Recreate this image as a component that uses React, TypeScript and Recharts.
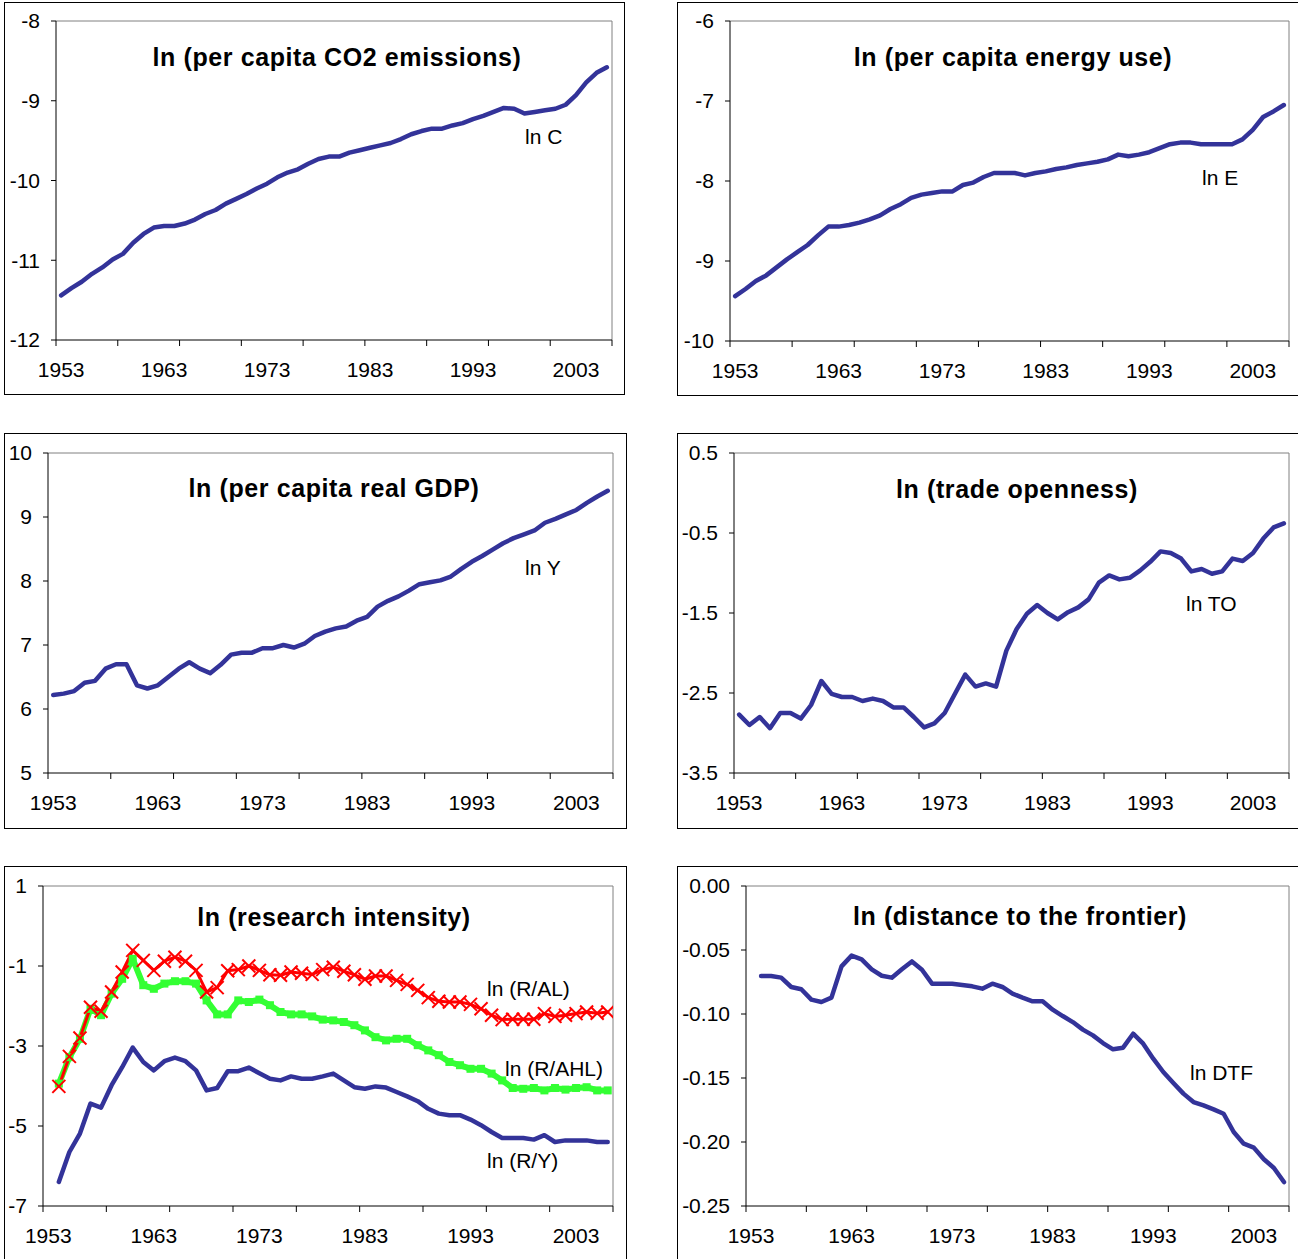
import { LineChart, Line, XAxis, YAxis, ReferenceLine } from "recharts";

// categories
const years = [
  1953, 1954, 1955, 1956, 1957, 1958, 1959, 1960, 1961, 1962,
  1963, 1964, 1965, 1966, 1967, 1968, 1969, 1970, 1971, 1972,
  1973, 1974, 1975, 1976, 1977, 1978, 1979, 1980, 1981, 1982,
  1983, 1984, 1985, 1986, 1987, 1988, 1989, 1990, 1991, 1992,
  1993, 1994, 1995, 1996, 1997, 1998, 1999, 2000, 2001, 2002,
  2003, 2004, 2005, 2006,
];
const xTickYears = [1953, 1963, 1973, 1983, 1993, 2003];
// tick marks sit between categories, every 6 years
const xTickMarks = [1952.5, 1958.5, 1964.5, 1970.5, 1976.5, 1982.5, 1988.5, 1994.5, 2000.5, 2006.5];

// series values
const lnC = [
  -11.44, -11.35, -11.27, -11.17, -11.09, -10.99, -10.92, -10.78, -10.67, -10.59,
  -10.57, -10.57, -10.54, -10.49, -10.42, -10.37, -10.29, -10.23, -10.17, -10.1,
  -10.04, -9.96, -9.9, -9.86, -9.79, -9.73, -9.7, -9.7, -9.65, -9.62,
  -9.59, -9.56, -9.53, -9.48, -9.42, -9.38, -9.35, -9.35, -9.31, -9.28,
  -9.23, -9.19, -9.14, -9.09, -9.1, -9.16, -9.14, -9.12, -9.1, -9.05,
  -8.93, -8.77, -8.65, -8.58,
];
const lnE = [
  -9.44, -9.35, -9.25, -9.18, -9.08, -8.98, -8.89, -8.8, -8.68, -8.57,
  -8.57, -8.55, -8.52, -8.48, -8.43, -8.35, -8.29, -8.21, -8.17, -8.15,
  -8.13, -8.13, -8.05, -8.02, -7.95, -7.9, -7.9, -7.9, -7.93, -7.9,
  -7.88, -7.85, -7.83, -7.8, -7.78, -7.76, -7.73, -7.67, -7.69, -7.67,
  -7.64, -7.59, -7.54, -7.52, -7.52, -7.54, -7.54, -7.54, -7.54, -7.48,
  -7.36, -7.2, -7.13, -7.05,
];
const lnY = [
  6.22, 6.24, 6.28, 6.41, 6.44, 6.63, 6.7, 6.7, 6.37, 6.32,
  6.37, 6.5, 6.63, 6.73, 6.63, 6.56, 6.69, 6.85, 6.88, 6.88,
  6.95, 6.95, 7.0, 6.96, 7.02, 7.14, 7.21, 7.26, 7.29, 7.38,
  7.44, 7.6, 7.69, 7.76, 7.85, 7.95, 7.98, 8.01, 8.07, 8.19,
  8.3, 8.39, 8.49, 8.59, 8.67, 8.73, 8.79, 8.91, 8.97, 9.04,
  9.11, 9.22, 9.32, 9.41,
];
const lnTO = [
  -2.77, -2.9, -2.8, -2.94, -2.75, -2.75, -2.82, -2.65, -2.35, -2.51,
  -2.55, -2.55, -2.6, -2.57, -2.6, -2.68, -2.68, -2.8, -2.93, -2.88,
  -2.75, -2.51, -2.27, -2.42, -2.38, -2.42, -1.97, -1.7, -1.51, -1.4,
  -1.5, -1.58, -1.49, -1.43, -1.33, -1.12, -1.03, -1.08, -1.06, -0.97,
  -0.86, -0.73, -0.75, -0.82, -0.98, -0.95, -1.01, -0.98, -0.82, -0.85,
  -0.75, -0.57, -0.43, -0.38,
];
const lnRY = [
  null, -6.4, -5.65, -5.19, -4.44, -4.54, -3.98, -3.53, -3.04, -3.4,
  -3.61, -3.38, -3.29, -3.38, -3.61, -4.11, -4.05, -3.63, -3.63, -3.54,
  -3.68, -3.82, -3.86, -3.76, -3.82, -3.82, -3.76, -3.69, -3.86, -4.03,
  -4.07, -4.01, -4.04, -4.15, -4.26, -4.38, -4.57, -4.69, -4.73, -4.73,
  -4.84, -4.98, -5.15, -5.3, -5.3, -5.3, -5.34, -5.23, -5.4, -5.36,
  -5.36, -5.36, -5.4, -5.4,
];
const lnRAHL = [
  null, -3.94, -3.28, -2.82, -2.07, -2.23, -1.69, -1.32, -0.82, -1.48,
  -1.57, -1.44, -1.38, -1.38, -1.44, -1.86, -2.21, -2.21, -1.86, -1.9,
  -1.84, -1.98, -2.15, -2.21, -2.21, -2.26, -2.34, -2.36, -2.4, -2.48,
  -2.61, -2.78, -2.86, -2.82, -2.82, -2.98, -3.11, -3.23, -3.4, -3.48,
  -3.57, -3.57, -3.69, -3.86, -4.05, -4.07, -4.05, -4.11, -4.05, -4.09,
  -4.05, -4.03, -4.11, -4.11,
];
const lnRAL = [
  null, -4.01, -3.26, -2.8, -2.03, -2.13, -1.65, -1.15, -0.61, -0.86,
  -1.11, -0.88, -0.78, -0.88, -1.11, -1.65, -1.54, -1.12, -1.09, -1.0,
  -1.11, -1.22, -1.23, -1.15, -1.18, -1.21, -1.09, -1.03, -1.13, -1.22,
  -1.33, -1.25, -1.25, -1.36, -1.46, -1.61, -1.79, -1.88, -1.9, -1.9,
  -1.96, -2.07, -2.23, -2.34, -2.33, -2.33, -2.33, -2.19, -2.26, -2.23,
  -2.19, -2.15, -2.18, -2.15,
];
const lnDTF = [
  null, -0.0703, -0.0703, -0.0716, -0.0789, -0.0807, -0.0888, -0.0906, -0.0872, -0.0628,
  -0.0544, -0.0573, -0.0651, -0.0701, -0.0716, -0.0651, -0.0589, -0.0654, -0.0763, -0.0763,
  -0.0763, -0.0773, -0.0784, -0.0802, -0.0763, -0.0789, -0.0841, -0.0872, -0.0901, -0.0901,
  -0.0966, -0.1016, -0.1063, -0.1122, -0.1167, -0.1227, -0.1276, -0.1263, -0.1154, -0.1232,
  -0.1349, -0.1453, -0.1539, -0.1622, -0.1688, -0.1714, -0.1745, -0.1779, -0.1922, -0.2013,
  -0.2044, -0.2135, -0.2203, -0.2313,
];

// y tick labels
const ticksC = [-12, -11, -10, -9, -8];
const ticksE = [-10, -9, -8, -7, -6];
const ticksY = [5, 6, 7, 8, 9, 10];
const ticksTO = [-3.5, -2.5, -1.5, -0.5, 0.5];
const ticksR = [-7, -5, -3, -1, 1];
const ticksDTF = [-0.25, -0.2, -0.15, -0.1, -0.05, 0];

const data = years.map((year, i) => ({
  year,
  lnC: lnC[i],
  lnE: lnE[i],
  lnY: lnY[i],
  lnTO: lnTO[i],
  lnRY: lnRY[i],
  lnRAHL: lnRAHL[i],
  lnRAL: lnRAL[i],
  lnDTF: lnDTF[i],
}));

const BLUE = "#333399";
const GREEN = "#33ff33";
const RED = "#ff0000";
const FONT = "'Liberation Sans', Arial, sans-serif";

const XTick = (props: any) => {
  const { x, y, payload } = props;
  const v = payload.value as number;
  if (Number.isInteger(v)) {
    return (
      <text x={x} y={y + 37} textAnchor="middle" fontSize={21} fill="#000">
        {String(v)}
      </text>
    );
  }
  return <line x1={x} x2={x} y1={y} y2={y + 6} stroke="#000" strokeWidth={1} />;
};

const xMark = (p: any) => {
  if (p.cx == null || p.cy == null || p.value == null) return <g key={p.index} />;
  const s = 6.5;
  return (
    <g key={p.index}>
      <line x1={p.cx - s} y1={p.cy - s} x2={p.cx + s} y2={p.cy + s} stroke={RED} strokeWidth={2} />
      <line x1={p.cx - s} y1={p.cy + s} x2={p.cx + s} y2={p.cy - s} stroke={RED} strokeWidth={2} />
    </g>
  );
};

const squareMark = (p: any) => {
  if (p.cx == null || p.cy == null || p.value == null) return <g key={p.index} />;
  return <rect key={p.index} x={p.cx - 4} y={p.cy - 4} width={8} height={8} fill={GREEN} />;
};

type Box = { l: number; t: number; w: number; h: number };
type Plot = { l: number; t: number; r: number; b: number };
type Series = { key: string; color: string; width: number; dot?: any };

function Panel({ box, plot, yTicks, yFmt, series }: {
  box: Box; plot: Plot; yTicks: number[]; yFmt: (v: number) => string; series: Series[];
}) {
  const innerL = box.l + 1;
  const innerT = box.t + 1;
  const w = box.w - 2;
  const h = box.h - 2;
  const yMin = yTicks[0];
  const yMax = yTicks[yTicks.length - 1];
  return (
    <div
      style={{
        position: "absolute", left: box.l, top: box.t, width: box.w, height: box.h,
        border: "1px solid #000", boxSizing: "border-box", background: "#fff",
      }}
    >
      <LineChart
        width={w}
        height={h}
        data={data}
        margin={{ top: plot.t - innerT, right: innerL + w - plot.r, left: 0, bottom: 0 }}
      >
        <XAxis
          dataKey="year"
          type="number"
          domain={[1952.5, 2006.5]}
          allowDataOverflow
          ticks={[...xTickMarks, ...xTickYears].sort((a, b) => a - b)}
          interval={0}
          tick={<XTick />}
          tickLine={false}
          tickSize={0}
          tickMargin={0}
          height={innerT + h - plot.b}
          axisLine={{ stroke: "#000", strokeWidth: 1 }}
        />
        <YAxis
          type="number"
          domain={[yMin, yMax]}
          allowDataOverflow
          ticks={yTicks}
          interval={0}
          tickFormatter={yFmt}
          width={plot.l - innerL}
          tickSize={5}
          tickMargin={11}
          tick={{ fontSize: 21, fill: "#000" }}
          tickLine={{ stroke: "#000" }}
          axisLine={{ stroke: "#000", strokeWidth: 1 }}
        />
        <ReferenceLine y={yMax} stroke="#808080" strokeWidth={1} />
        <ReferenceLine x={2006.5} stroke="#808080" strokeWidth={1} />
        {series.map((s) => (
          <Line
            key={s.key}
            dataKey={s.key}
            type="linear"
            stroke={s.color}
            strokeWidth={s.width}
            strokeLinejoin="round"
            strokeLinecap="round"
            dot={s.dot ?? false}
            activeDot={false}
            isAnimationActive={false}
          />
        ))}
      </LineChart>
    </div>
  );
}

const intFmt = (v: number) => String(v);
const oneFmt = (v: number) => v.toFixed(1);
const twoFmt = (v: number) => v.toFixed(2);

const Title = ({ text, cx, cy }: { text: string; cx: number; cy: number }) => (
  <div
    style={{
      position: "absolute", left: cx - 300, top: cy - 12.5, width: 600, textAlign: "center",
      fontSize: 25, lineHeight: "25px", fontWeight: "bold", letterSpacing: 0.6, whiteSpace: "nowrap",
    }}
  >
    {text}
  </div>
);

const Tag = ({ text, x, cy }: { text: string; x: number; cy: number }) => (
  <div
    style={{
      position: "absolute", left: x, top: cy - 10.5, fontSize: 21, lineHeight: "21px", whiteSpace: "nowrap",
    }}
  >
    {text}
  </div>
);

export default function App() {
  return (
    <div
      style={{
        position: "absolute", left: 0, top: 0, width: 1298, height: 1259, overflow: "hidden",
        background: "#fff", fontFamily: FONT, color: "#000",
      }}
    >
      <Panel
        box={{ l: 4, t: 2, w: 621, h: 393 }}
        plot={{ l: 56, t: 21, r: 612, b: 340 }}
        yTicks={ticksC}
        yFmt={intFmt}
        series={[{ key: "lnC", color: BLUE, width: 4.5 }]}
      />
      <Panel
        box={{ l: 677, t: 2, w: 623, h: 394 }}
        plot={{ l: 730, t: 21, r: 1289, b: 341 }}
        yTicks={ticksE}
        yFmt={intFmt}
        series={[{ key: "lnE", color: BLUE, width: 4.5 }]}
      />
      <Panel
        box={{ l: 4, t: 433, w: 623, h: 396 }}
        plot={{ l: 48, t: 453, r: 613, b: 773 }}
        yTicks={ticksY}
        yFmt={intFmt}
        series={[{ key: "lnY", color: BLUE, width: 4.5 }]}
      />
      <Panel
        box={{ l: 677, t: 433, w: 623, h: 396 }}
        plot={{ l: 734, t: 453, r: 1289, b: 773 }}
        yTicks={ticksTO}
        yFmt={oneFmt}
        series={[{ key: "lnTO", color: BLUE, width: 4.5 }]}
      />
      <Panel
        box={{ l: 4, t: 866, w: 623, h: 400 }}
        plot={{ l: 43, t: 886, r: 613, b: 1206 }}
        yTicks={ticksR}
        yFmt={intFmt}
        series={[
          { key: "lnRY", color: BLUE, width: 4.5 },
          { key: "lnRAHL", color: GREEN, width: 6, dot: squareMark },
          { key: "lnRAL", color: RED, width: 3, dot: xMark },
        ]}
      />
      <Panel
        box={{ l: 677, t: 866, w: 623, h: 400 }}
        plot={{ l: 746, t: 886, r: 1289, b: 1206 }}
        yTicks={ticksDTF}
        yFmt={twoFmt}
        series={[{ key: "lnDTF", color: BLUE, width: 4.5 }]}
      />

      <Title text="ln (per capita CO2 emissions)" cx={337} cy={57.5} />
      <Title text="ln (per capita energy use)" cx={1013} cy={57} />
      <Title text="ln (per capita real GDP)" cx={334} cy={488} />
      <Title text="ln (trade openness)" cx={1017} cy={489} />
      <Title text="ln (research intensity)" cx={334} cy={917} />
      <Title text="ln (distance to the frontier)" cx={1020} cy={916} />

      <Tag text="ln C" x={525} cy={136.5} />
      <Tag text="ln E" x={1202} cy={177} />
      <Tag text="ln Y" x={525} cy={567} />
      <Tag text="ln TO" x={1186} cy={603} />
      <Tag text="ln (R/AL)" x={487} cy={988} />
      <Tag text="ln (R/AHL)" x={505} cy={1068} />
      <Tag text="ln (R/Y)" x={487} cy={1160} />
      <Tag text="ln DTF" x={1190} cy={1072} />
    </div>
  );
}
